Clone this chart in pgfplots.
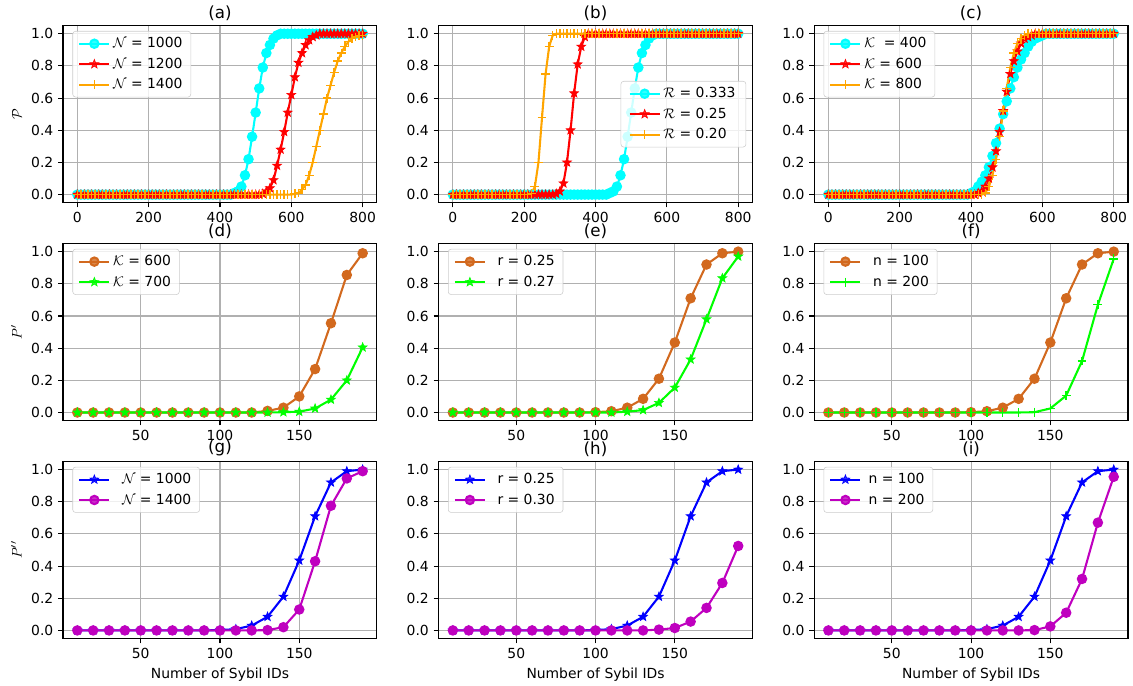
\documentclass[border=0pt]{standalone}
\usepackage{pgfplots}
\pgfplotsset{compat=1.18}
\usepackage{pgfplotstable}
\usepgfplotslibrary{groupplots}
\usepackage{fontspec}
\setmainfont{DejaVu Sans}
\definecolor{mcyan}{rgb}{0,1,1}
\definecolor{mred}{rgb}{1,0,0}
\definecolor{morange}{RGB}{255,165,0}
\definecolor{mchoc}{RGB}{210,105,30}
\definecolor{mlime}{RGB}{0,255,0}
\definecolor{mblue}{RGB}{0,0,255}
\definecolor{mmag}{RGB}{191,0,191}
\definecolor{mgrid}{RGB}{176,176,176}
\definecolor{mleg}{RGB}{204,204,204}

\pgfdeclareplotmark{fstar}{%
  \pgfpathmoveto{\pgfpointpolar{90}{\pgfplotmarksize}}%
  \pgfpathlineto{\pgfpointpolar{126}{0.42\pgfplotmarksize}}%
  \pgfpathlineto{\pgfpointpolar{162}{\pgfplotmarksize}}%
  \pgfpathlineto{\pgfpointpolar{198}{0.42\pgfplotmarksize}}%
  \pgfpathlineto{\pgfpointpolar{234}{\pgfplotmarksize}}%
  \pgfpathlineto{\pgfpointpolar{270}{0.42\pgfplotmarksize}}%
  \pgfpathlineto{\pgfpointpolar{306}{\pgfplotmarksize}}%
  \pgfpathlineto{\pgfpointpolar{342}{0.42\pgfplotmarksize}}%
  \pgfpathlineto{\pgfpointpolar{18}{\pgfplotmarksize}}%
  \pgfpathlineto{\pgfpointpolar{54}{0.42\pgfplotmarksize}}%
  \pgfpathclose
  \pgfusepathqfillstroke
}

\pgfplotstableread{
x a1 a2 a3 b1 b2 b3 c1 c2 c3
0 0 0 0 0 0 0 0 0 0
10 0 0 0 0 0 0 0 0 0
20 0 0 0 0 0 0 0 0 0
30 0 0 0 0 0 0 0 0 0
40 0 0 0 0 0 0 0 0 0
50 0 0 0 0 0 0 0 0 0
60 0 0 0 0 0 0 0 0 0
70 0 0 0 0 0 0 0 0 0
80 0 0 0 0 0 0 0 0 0
90 0 0 0 0 0 0 0 0 0
100 0 0 0 0 0 0 0 0 0
110 0 0 0 0 0 0 0 0 0
120 0 0 0 0 0 0 0 0 0
130 0 0 0 0 0 0 0 0 0
140 0 0 0 0 0 0 0 0 0
150 0 0 0 0 0 0 0 0 0
160 0 0 0 0 0 0 0 0 0
170 0 0 0 0 0 0 0 0 0
180 0 0 0 0 0 0 0 0 0
190 0 0 0 0 0 0 0 0 0
200 0 0 0 0 0 0 0 0 0
210 0 0 0 0 0 0 0 0 0
220 0 0 0 0 0 0.005 0 0 0
230 0 0 0 0 0 0.05 0 0 0
240 0 0 0 0 0 0.2 0 0 0
250 0 0 0 0 0 0.48 0 0 0
260 0 0 0 0 0 0.75 0 0 0
270 0 0 0 0 0 0.92 0 0 0
280 0 0 0 0 0 0.99 0 0 0
290 0 0 0 0 0.005 1 0 0 0
300 0 0 0 0 0.02 1 0 0 0
310 0 0 0 0 0.07 1 0 0 0
320 0 0 0 0 0.2 1 0 0 0
330 0 0 0 0 0.4 1 0 0 0
340 0 0 0 0 0.63 1 0 0 0
350 0 0 0 0 0.81 1 0 0 0
360 0 0 0 0 0.92 1 0 0 0
370 0 0 0 0 0.98 1 0 0 0
380 0 0 0 0 1 1 0 0 0
390 0 0 0 0 1 1 0 0 0
400 0 0 0 0 1 1 0.01 0 0
410 0 0 0 0 1 1 0.02 0 0
420 0 0 0 0 1 1 0.05 0.01 0
430 0 0 0 0 1 1 0.08 0.02 0
440 0.01 0 0 0.01 1 1 0.12 0.05 0.01
450 0.02 0 0 0.02 1 1 0.17 0.10 0.05
460 0.05 0 0 0.05 1 1 0.24 0.17 0.12
470 0.12 0 0 0.12 1 1 0.32 0.27 0.22
480 0.22 0 0 0.22 1 1 0.41 0.39 0.36
490 0.36 0 0 0.36 1 1 0.50 0.52 0.52
500 0.51 0 0 0.51 1 1 0.58 0.64 0.66
510 0.66 0 0 0.66 1 1 0.66 0.75 0.79
520 0.79 0.005 0 0.79 1 1 0.73 0.83 0.88
530 0.88 0.02 0 0.88 1 1 0.79 0.89 0.94
540 0.93 0.04 0 0.93 1 1 0.84 0.94 0.97
550 0.97 0.09 0 0.97 1 1 0.88 0.97 0.99
560 0.99 0.18 0 0.99 1 1 0.92 0.98 1
570 1 0.28 0 1 1 1 0.95 0.99 1
580 1 0.39 0 1 1 1 0.97 1 1
590 1 0.51 0 1 1 1 0.98 1 1
600 1 0.62 0 1 1 1 0.99 1 1
610 1 0.73 0.005 1 1 1 1 1 1
620 1 0.82 0.01 1 1 1 1 1 1
630 1 0.88 0.03 1 1 1 1 1 1
640 1 0.93 0.06 1 1 1 1 1 1
650 1 0.96 0.12 1 1 1 1 1 1
660 1 0.98 0.20 1 1 1 1 1 1
670 1 0.99 0.30 1 1 1 1 1 1
680 1 1 0.40 1 1 1 1 1 1
690 1 1 0.50 1 1 1 1 1 1
700 1 1 0.60 1 1 1 1 1 1
710 1 1 0.68 1 1 1 1 1 1
720 1 1 0.76 1 1 1 1 1 1
730 1 1 0.83 1 1 1 1 1 1
740 1 1 0.88 1 1 1 1 1 1
750 1 1 0.92 1 1 1 1 1 1
760 1 1 0.95 1 1 1 1 1 1
770 1 1 0.97 1 1 1 1 1 1
780 1 1 0.98 1 1 1 1 1 1
790 1 1 0.99 1 1 1 1 1 1
800 1 1 0.99 1 1 1 1 1 1
}\topdata

\pgfplotstableread{
x d1 d2 e1 e2 f2 g2 h2 i2
10 0 0 0 0 0 0 0 0
20 0 0 0 0 0 0 0 0
30 0 0 0 0 0 0 0 0
40 0 0 0 0 0 0 0 0
50 0 0 0 0 0 0 0 0
60 0 0 0 0 0 0 0 0
70 0 0 0 0 0 0 0 0
80 0 0 0 0 0 0 0 0
90 0 0 0 0 0 0 0 0
100 0 0 0.002 0 0 0 0 0
110 0 0 0.008 0 0 0 0 0
120 0 0 0.03 0.005 0 0 0 0
130 0.01 0 0.085 0.015 0 0.002 0 0
140 0.03 0.002 0.21 0.06 0.002 0.02 0.005 0.002
150 0.10 0.005 0.435 0.155 0.025 0.13 0.015 0.025
160 0.27 0.025 0.71 0.33 0.105 0.43 0.055 0.11
170 0.555 0.08 0.92 0.58 0.32 0.775 0.14 0.32
180 0.855 0.20 0.99 0.835 0.67 0.945 0.295 0.67
190 0.99 0.405 1.0 0.97 0.955 0.99 0.525 0.955
}\lowdata

\pgfplotsset{
  mystyle/.style={
    scale only axis, width=226pt, height=127.4pt,
    ymin=-0.05, ymax=1.05, ytick={0,0.2,0.4,0.6,0.8,1.0},
    yticklabel style={/pgf/number format/.cd, fixed, fixed zerofill, precision=1},
    /pgf/number format/assume math mode=true,
    tick label style={font=\fontsize{10}{12}\selectfont},
    label style={font=\fontsize{10}{12}\selectfont},
    every axis title shift=0pt,
    title style={font=\fontsize{12}{14}\selectfont, inner sep=0pt, yshift=3.5pt},
    grid=major, major grid style={mgrid, line width=0.8pt},
    axis line style={line width=0.8pt},
    tick align=outside, xtick pos=bottom, ytick pos=left,
    major tick length=3.5pt, tick style={black, line width=0.8pt},
    legend cell align=left,
    legend style={font=\fontsize{10}{12}\selectfont, draw=mleg, rounded corners=2pt,
      fill=white, fill opacity=0.8, text opacity=1, inner xsep=4pt, inner ysep=2.5pt,
      row sep=1.8pt, at={(0.03,0.97)}, anchor=north west},
    legend image code/.code={\draw[mark repeat=2,mark phase=2,#1] plot coordinates {(0cm,0cm) (0.38cm,0cm) (0.76cm,0cm)};},
  },
  toprow/.style={xmin=-40, xmax=840, xtick={0,200,400,600,800}},
  lowrow/.style={xmin=1, xmax=199, xtick={50,100,150}},
  pc/.style={#1, line width=1.5pt, mark=*, mark size=3pt, mark options={solid, fill=#1}},
  ps/.style={#1, line width=1.5pt, mark=fstar, mark size=3.3pt, mark options={solid, fill=#1, line width=0.5pt}},
  pp/.style={#1, line width=1.5pt, mark=+, mark size=3.2pt, mark options={solid, line width=1pt}},
}

\begin{document}
\begin{tikzpicture}
\begin{groupplot}[group style={group name=G, group size=3 by 3, horizontal sep=44.4pt, vertical sep=29.5pt}, mystyle]
\nextgroupplot[toprow, title={(a)}, ylabel={$\mathcal{P}$}]
\addplot[pc=mcyan] table[x=x,y=a1]{\topdata};
\addlegendentry{$\mathcal{N}$ = 1000}
\addplot[ps=mred] table[x=x,y=a2]{\topdata};
\addlegendentry{$\mathcal{N}$ = 1200}
\addplot[pp=morange] table[x=x,y=a3]{\topdata};
\addlegendentry{$\mathcal{N}$ = 1400}

\nextgroupplot[toprow, title={(b)}, legend style={at={(0.98,0.5)}, anchor=east, inner xsep=5.5pt}]
\addplot[pc=mcyan] table[x=x,y=b1]{\topdata};
\addlegendentry{$\mathcal{R}$ = 0.333}
\addplot[ps=mred] table[x=x,y=b2]{\topdata};
\addlegendentry{$\mathcal{R}$ = 0.25}
\addplot[pp=morange] table[x=x,y=b3]{\topdata};
\addlegendentry{$\mathcal{R}$ = 0.20}

\nextgroupplot[toprow, title={(c)}]
\addplot[pc=mcyan] table[x=x,y=c1]{\topdata};
\addlegendentry{$\mathcal{K}$ \ = 400}
\addplot[ps=mred] table[x=x,y=c2]{\topdata};
\addlegendentry{$\mathcal{K}$ = 600}
\addplot[pp=morange] table[x=x,y=c3]{\topdata};
\addlegendentry{$\mathcal{K}$ = 800}

\nextgroupplot[lowrow, title={(d)}, ylabel={$P^{\prime}$}]
\addplot[pc=mchoc] table[x=x,y=d1]{\lowdata};
\addlegendentry{$\mathcal{K}$ = 600}
\addplot[ps=mlime] table[x=x,y=d2]{\lowdata};
\addlegendentry{$\mathcal{K}$ = 700}

\nextgroupplot[lowrow, title={(e)}]
\addplot[pc=mchoc] table[x=x,y=e1]{\lowdata};
\addlegendentry{\ \ r = 0.25}
\addplot[ps=mlime] table[x=x,y=e2]{\lowdata};
\addlegendentry{\ \ r = 0.27}

\nextgroupplot[lowrow, title={(f)}]
\addplot[pc=mchoc] table[x=x,y=e1]{\lowdata};
\addlegendentry{\ \ n = 100}
\addplot[pp=mlime] table[x=x,y=f2]{\lowdata};
\addlegendentry{\ \ n = 200}

\nextgroupplot[lowrow, title={(g)}, ylabel={$P^{\prime\prime}$}, xlabel={Number of Sybil IDs}]
\addplot[ps=mblue] table[x=x,y=e1]{\lowdata};
\addlegendentry{\ \ $\mathcal{N}$ = 1000}
\addplot[pc=mmag] table[x=x,y=g2]{\lowdata};
\addlegendentry{\ \ $\mathcal{N}$ = 1400}

\nextgroupplot[lowrow, title={(h)}, xlabel={Number of Sybil IDs}]
\addplot[ps=mblue] table[x=x,y=e1]{\lowdata};
\addlegendentry{\ \ r = 0.25}
\addplot[pc=mmag] table[x=x,y=h2]{\lowdata};
\addlegendentry{\ \ r = 0.30}

\nextgroupplot[lowrow, title={(i)}, xlabel={Number of Sybil IDs}]
\addplot[ps=mblue] table[x=x,y=e1]{\lowdata};
\addlegendentry{\ n = 100}
\addplot[pc=mmag] table[x=x,y=i2]{\lowdata};
\addlegendentry{\ n = 200}
\end{groupplot}
\pgfresetboundingbox
\path ([xshift=-45.4pt,yshift=18.5pt]G c1r1.north west) rectangle ([xshift=3.6pt,yshift=-33.8pt]G c3r3.south east);
\end{tikzpicture}
\end{document}
